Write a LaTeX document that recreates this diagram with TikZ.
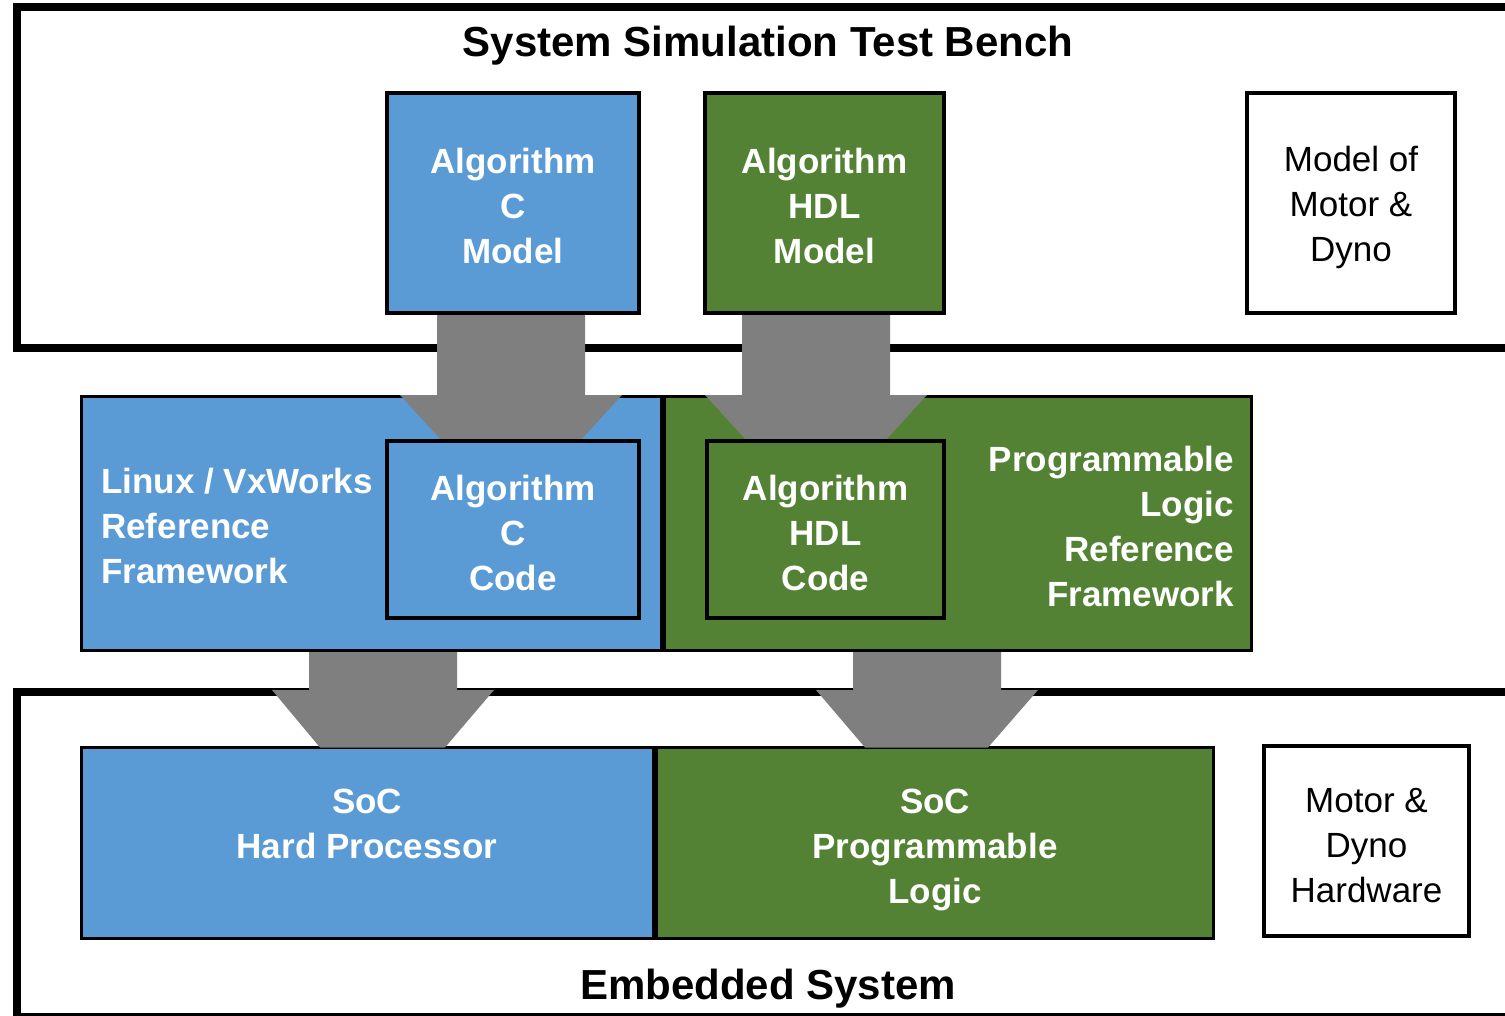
\documentclass[tikz,border=0pt]{standalone}
\usepackage{fontspec}
\setmainfont{Liberation Sans}
\usetikzlibrary{calc}
\definecolor{boxblue}{HTML}{5B9BD5}
\definecolor{boxgreen}{HTML}{548235}
\definecolor{arrowgray}{HTML}{7F7F7F}
\begin{document}
\begin{tikzpicture}[x=1pt,y=-1pt,
  outerbox/.style={draw=black,line width=8pt,inner sep=0pt,fill=white},
  framebox/.style={draw=black,line width=3pt,inner sep=0pt},
  algbox/.style={draw=black,line width=4pt,inner sep=0pt,outer sep=0pt},
  whitebox/.style={draw=black,line width=4pt,inner sep=0pt,fill=white},
  whitetext/.style={text=white,font=\bfseries\fontsize{35}{45}\selectfont,inner sep=0pt,align=center},
  blacktext/.style={text=black,font=\fontsize{35}{45}\selectfont,inner sep=0pt,align=center,yshift=-4.5pt},
  titletext/.style={text=black,font=\bfseries\fontsize{42}{50}\selectfont,inner sep=0pt,yshift=-4pt},
  blockarrow/.style={fill=arrowgray,draw=none}]
\path[use as bounding box] (0,0) rectangle (1505,1016);
% outer boxes
\node[outerbox,minimum width=1513pt,minimum height=341pt] (bench) at (773.5,177.5) {};
\node[outerbox,minimum width=1513pt,minimum height=325pt] (embedded) at (773.5,854.5) {};
% middle frames
\node[framebox,fill=boxblue,minimum width=580pt,minimum height=254pt] (frameblue) at (371.5,523.5) {};
\node[framebox,fill=boxgreen,minimum width=587pt,minimum height=254pt] (framegreen) at (958,523.5) {};
% algorithm boxes
\node[algbox,fill=boxblue,minimum width=252pt,minimum height=220pt] (cm) at (513,203) {};
\node[algbox,fill=boxgreen,minimum width=239pt,minimum height=220pt] (hm) at (824.5,203) {};
\node[algbox,fill=boxblue,minimum width=252pt,minimum height=177pt] (cc) at (513,529.5) {};
\node[algbox,fill=boxgreen,minimum width=237pt,minimum height=177pt] (hc) at (825.5,529.5) {};
% top arrows
\fill[blockarrow] ($(cm.south)+(-76,0)$) -- ($(cm.south)+(72,0)$) -- ($(cm.south)+(72,82)$) -- ($(cm.south)+(109,82)$)
  -- ($(cc.north)+(67,0)$) -- ($(cc.north)+(-71,0)$) -- ($(cm.south)+(-113,82)$) -- ($(cm.south)+(-76,82)$) -- cycle;
\fill[blockarrow] ($(hm.south)+(-82.5,0)$) -- ($(hm.south)+(65.5,0)$) -- ($(hm.south)+(65.5,82)$) -- ($(hm.south)+(102.5,82)$)
  -- ($(hc.north)+(59.5,0)$) -- ($(hc.north)+(-78.5,0)$) -- ($(hm.south)+(-119.5,82)$) -- ($(hm.south)+(-82.5,82)$) -- cycle;
% redraw algorithm boxes above arrow ends
\draw[algbox,fill=boxblue] (cm.south west) rectangle (cm.north east);
\draw[algbox,fill=boxgreen] (hm.south west) rectangle (hm.north east);
\draw[algbox,fill=boxblue] (cc.south west) rectangle (cc.north east);
\draw[algbox,fill=boxgreen] (hc.south west) rectangle (hc.north east);
\node[whitebox,minimum width=208pt,minimum height=220pt] (motormodel) at (1351,203) {};
% bottom boxes
\node[framebox,fill=boxblue,minimum width=572pt,minimum height=191pt] (socblue) at (367.5,843) {};
\node[framebox,fill=boxgreen,minimum width=557pt,minimum height=191pt] (socgreen) at (935,843) {};
% bottom arrows
\fill[blockarrow] ($(frameblue.south)+(-62.5,0)$) -- ($(frameblue.south)+(85.5,0)$) -- ($(frameblue.south)+(85.5,38)$) -- ($(frameblue.south)+(122.5,38)$)
  -- ($(socblue.north)+(77.5,1.5)$) -- ($(socblue.north)+(-47.5,1.5)$) -- ($(frameblue.south)+(-99.5,38)$) -- ($(frameblue.south)+(-62.5,38)$) -- cycle;
\fill[blockarrow] ($(framegreen.south)+(-105,0)$) -- ($(framegreen.south)+(43,0)$) -- ($(framegreen.south)+(43,38)$) -- ($(framegreen.south)+(80,38)$)
  -- ($(socgreen.north)+(53,1.5)$) -- ($(socgreen.north)+(-70,1.5)$) -- ($(framegreen.south)+(-142,38)$) -- ($(framegreen.south)+(-105,38)$) -- cycle;
\node[whitebox,minimum width=205pt,minimum height=190pt] (motorhw) at (1366.5,841) {};
% texts
\node[whitetext,yshift=-3pt] (cmtxt) at (cm.center) {Algorithm\\C\\Model};
\node[whitetext,yshift=-3pt] (hmtxt) at (hm.center) {Algorithm\\HDL\\Model};
\node[whitetext,yshift=-3.5pt] (cctxt) at (cc.center) {Algorithm\\C\\Code};
\node[whitetext,yshift=-3pt] (hctxt) at (hc.center) {Algorithm\\HDL\\Code};
\node[blacktext] (mmtxt) at (motormodel.center) {Model of\\Motor \&\\Dyno};
\node[blacktext] (mhtxt) at (motorhw.center) {Motor \&\\Dyno\\Hardware};
\node[titletext] (benchtitle) at (768,42) {System Simulation Test Bench};
\node[titletext] (embtitle) at (768,985) {Embedded System};
\node[whitetext,anchor=west,align=left] (linuxtxt) at (101,526) {Linux / VxWorks\\Reference\\Framework};
\node[whitetext,anchor=east,align=right] (pltxt) at (1234,526) {Programmable\\Logic\\Reference\\Framework};
\node[whitetext] (soctxt1) at (367,823.5) {SoC\\Hard Processor};
\node[whitetext,yshift=-4pt] (soctxt2) at (935,846) {SoC\\Programmable\\Logic};
\end{tikzpicture}
\end{document}
